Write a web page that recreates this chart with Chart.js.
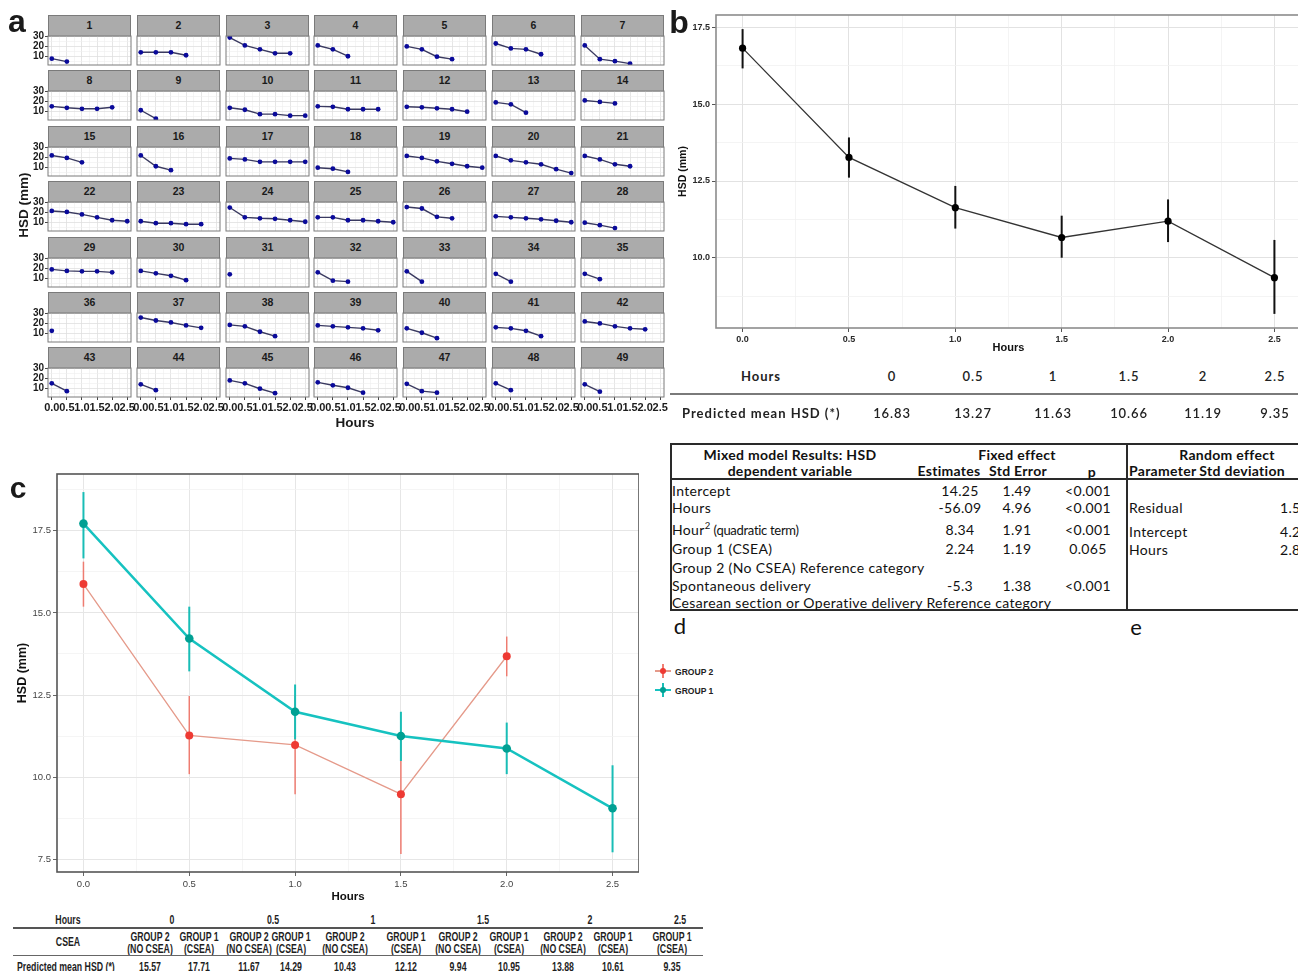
<!DOCTYPE html>
<html><head><meta charset="utf-8"><title>HSD mixed model</title>
<script src="https://cdn.jsdelivr.net/npm/chart.js@4.4.1/dist/chart.umd.min.js"></script>
<style>
html,body{margin:0;padding:0;background:#fff;}
body{width:1298px;height:971px;overflow:hidden;position:relative;font-family:"Liberation Sans",Arial,sans-serif;color:#1a1a1a;}
canvas{position:absolute;}
.t{position:absolute;white-space:nowrap;line-height:1;}
.strip{position:absolute;box-sizing:border-box;border:1px solid #7a7a7a;background:#ababab;font:bold 10.5px "Liberation Sans",Arial,sans-serif;color:#1a1a1a;text-align:center;line-height:19px;}
.r{position:absolute;}
</style></head><body>
<script>
// ---------------- DATA ----------------
const hours = [0, 0.5, 1, 1.5, 2, 2.5];
const hourTickLabels = ['0.0', '0.5', '1.0', '1.5', '2.0', '2.5'];
const hourMinor = [0.25, 0.75, 1.25, 1.75, 2.25];

// Panel a: individual HSD trajectories (mm), one list per subject, starting at hour 0
const subjectIds = ['1','2','3','4','5','6','7','8','9','10','11','12','13','14','15','16','17','18','19','20','21','22','23','24','25','26','27','28','29','30','31','32','33','34','35','36','37','38','39','40','41','42','43','44','45','46','47','48','49'];
const subjectHSD = [
  [7.5, 4.5], [14, 14, 14, 11], [29, 21, 17, 13, 13], [21, 17, 10], [20, 17, 9.5, 7], [23, 18, 17, 12], [21, 7, 5, 2.5],
  [15, 13.5, 12.5, 12.5, 14], [11, 2.5], [13.5, 11.5, 7, 7, 5.5, 5.5], [15, 14.5, 12, 12, 12], [14.5, 14, 13, 12, 9.5], [19, 17, 8.5], [21, 19.5, 18],
  [22, 19.5, 15], [22, 11, 7], [19, 18, 15.5, 15.5, 15.5, 15.5], [9.5, 8.5, 5.2], [21.5, 19.5, 16, 13.5, 11, 9.5], [21.5, 17, 15, 13, 8, 4], [21.5, 18, 13, 11],
  [21.5, 20.5, 18, 15, 12, 11], [11, 9, 9, 8, 8], [25, 15, 14, 13.5, 12, 10.5], [15, 15, 12, 12, 11, 10], [25.5, 24, 15.5, 14], [16, 15, 14, 13, 11.5, 10], [9.5, 7, 4],
  [19, 17.5, 17, 17, 16], [17.5, 15, 12.5, 8], [14], [16, 7.5, 6.5], [17, 6.5], [14.5, 6.5], [14.5, 9],
  [12.5], [26, 23, 21, 18, 15.5], [18.5, 17, 11.5, 7], [18, 17, 16, 15, 13], [15, 10.5, 5], [16, 15, 12.5, 7], [22, 20, 17, 15, 14],
  [15, 7], [14, 8], [18, 15, 9.5, 5], [16, 13, 10.5, 5.5], [14.5, 7, 5.5], [15, 8], [14, 6.5]
];
const smallYMajor = [10, 20, 30];
const smallYTickLabels = ['10', '20', '30'];
const smallYMinor = [5, 15, 25];

// Panel b: predicted mean HSD with CI
const bHours = [0, 0.5, 1, 1.5, 2, 2.5];
const bMean = [16.83, 13.27, 11.63, 10.66, 11.19, 9.35];
const bLow = [16.17, 12.61, 10.95, 10.0, 10.51, 8.17];
const bHigh = [17.45, 13.92, 12.34, 11.37, 11.90, 10.58];
const bYMajor = [10, 12.5, 15, 17.5];
const bYTickLabels = ['10.0', '12.5', '15.0', '17.5'];
const bYMinor = [8.75, 11.25, 13.75, 16.25];
const bTableHourLabels = ['0', '0.5', '1', '1.5', '2', '2.5'];
const bTablePred = ['16.83', '13.27', '11.63', '10.66', '11.19', '9.35'];

// Panel c: by group
const cSeriesNames = ['GROUP 2', 'GROUP 1'];
const cGroup2Hours = [0, 0.5, 1, 1.5, 2];
const cGroup2Mean = [15.88, 11.27, 10.98, 9.48, 13.68];
const cGroup2Low = [15.19, 10.09, 9.48, 7.66, 13.07];
const cGroup2High = [16.56, 12.47, 12.48, 11.30, 14.28];
const cGroup1Hours = [0, 0.5, 1, 1.5, 2, 2.5];
const cGroup1Mean = [17.72, 14.22, 11.99, 11.25, 10.87, 9.05];
const cGroup1Low = [16.66, 13.22, 11.15, 10.49, 10.09, 7.71];
const cGroup1High = [18.68, 15.19, 12.82, 11.99, 11.66, 10.36];
const cYMajor = [7.5, 10, 12.5, 15, 17.5];
const cYTickLabels = ['7.5', '10.0', '12.5', '15.0', '17.5'];
const cYMinor = [8.75, 11.25, 13.75, 16.25, 18.75];
const cTableHourLabels = ['0', '0.5', '1', '1.5', '2', '2.5'];
const cTableGroup = ['GROUP 2', 'GROUP 1', 'GROUP 2', 'GROUP 1', 'GROUP 2', 'GROUP 1', 'GROUP 2', 'GROUP 1', 'GROUP 2', 'GROUP 1', 'GROUP 1'];
const cTableCsea = ['(NO CSEA)', '(CSEA)', '(NO CSEA)', '(CSEA)', '(NO CSEA)', '(CSEA)', '(NO CSEA)', '(CSEA)', '(NO CSEA)', '(CSEA)', '(CSEA)'];
const cTablePred = ['15.57', '17.71', '11.67', '14.29', '10.43', '12.12', '9.94', '10.95', '13.88', '10.61', '9.35'];

// Panels d / e: mixed model table
const dRowLabels = ['Intercept', 'Hours', 'Hour', 'Group 1 (CSEA)', 'Group 2 (No CSEA)  Reference category', 'Spontaneous delivery', 'Cesarean section or Operative delivery Reference category'];
const dEstimates = ['14.25', '-56.09', '8.34', '2.24', '', '-5.3', ''];
const dStdError = ['1.49', '4.96', '1.91', '1.19', '', '1.38', ''];
const dP = ['<0.001', '<0.001', '<0.001', '0.065', '', '<0.001', ''];
const eParams = ['Residual', 'Intercept', 'Hours'];
const eStdDev = ['1.56', '4.26', '2.83'];

// ---------------- HELPERS ----------------
Chart.defaults.font.family = '"Liberation Sans", Arial, sans-serif';
const near = (a, b) => Math.abs(a - b) < 1e-9;
const isIn = (arr, v) => arr.some(a => near(a, v));
function labelFor(major, labels) { return v => { const k = major.findIndex(a => near(a, v)); return k < 0 ? '' : labels[k]; }; }
function fixSize(prop, val) { return s => { s[prop] = val; s.paddingLeft = 0; s.paddingRight = 0; s.paddingTop = 0; s.paddingBottom = 0; }; }
const framePlugin = {
  id: 'frame',
  afterDatasetsDraw(chart, args, o) {
    const a = chart.chartArea, c = chart.ctx;
    c.save(); c.strokeStyle = o.color; c.lineWidth = o.width;
    c.strokeRect(a.left, a.top, a.right - a.left, a.bottom - a.top);
    c.restore();
  }
};
function axis(o) {
  return {
    type: 'linear', min: o.min, max: o.max, offset: false,
    afterBuildTicks: s => { s.ticks = o.major.concat(o.minor).sort((p, q) => p - q).map(v => ({ value: v })); },
    afterFit: fixSize(o.prop, o.size),
    ticks: { display: o.showLabels, autoSkip: false, maxRotation: 0, minRotation: 0, padding: o.pad, font: o.font, color: o.color, callback: labelFor(o.major, o.labels) },
    grid: {
      display: true, offset: false,
      color: c => (c.tick && isIn(o.major, c.tick.value)) ? o.gridMajor : o.gridMinor,
      lineWidth: c => (c.tick && isIn(o.major, c.tick.value)) ? o.gridMajorW : o.gridMinorW,
      drawTicks: o.drawTicks, tickLength: o.tickLen,
      tickColor: c => (c.tick && isIn(o.major, c.tick.value)) ? o.tickColor : 'rgba(0,0,0,0)', tickWidth: 1
    },
    border: { display: false },
    title: o.title || { display: false }
  };
}
function baseOptions(pad, frame) {
  return {
    responsive: false, maintainAspectRatio: false, animation: false, events: [], devicePixelRatio: 1,
    layout: { autoPadding: false, padding: pad },
    plugins: { legend: { display: false }, tooltip: { enabled: false }, frame: frame }
  };
}
function makeCanvas(x, y, w, h) {
  const cv = document.createElement('canvas');
  cv.width = w; cv.height = h;
  cv.style.left = x + 'px'; cv.style.top = y + 'px'; cv.style.width = w + 'px'; cv.style.height = h + 'px';
  document.body.appendChild(cv);
  return cv;
}
function txt(str, x, y, css, align, sx) {
  const d = document.createElement('div');
  d.className = 't'; d.textContent = str; d.style.cssText += css;
  d.style.left = x + 'px'; d.style.top = y + 'px';
  const tx = align === 'left' ? '0' : align === 'right' ? '-100%' : '-50%';
  d.style.transformOrigin = align === 'left' ? 'left center' : align === 'right' ? 'right center' : 'center center';
  d.style.transform = 'translate(' + tx + ',-50%)' + (sx ? ' scaleX(' + sx + ')' : '');
  document.body.appendChild(d);
  return d;
}
function rule(x, y, w, h, color) {
  const d = document.createElement('div'); d.className = 'r';
  d.style.left = x + 'px'; d.style.top = y + 'px'; d.style.width = w + 'px'; d.style.height = h + 'px'; d.style.background = color;
  document.body.appendChild(d);
}

// ---------------- PANEL a ----------------
subjectHSD.forEach((vals, i) => {
  const r = Math.floor(i / 7), c = i % 7;
  const px = Math.round(48 + c * 88.8), py = Math.round(36 + r * 55.4);
  const pw = 83, ph = 29;
  const leftAxis = c === 0, bottomAxis = r === 6;
  const yW = leftAxis ? 30 : 0, xH = bottomAxis ? 16 : 0;
  const padL = leftAxis ? 0 : 10, padR = 10, padT = 8, padB = 3;
  const s = document.createElement('div'); s.className = 'strip';
  s.style.left = px + 'px'; s.style.top = (py - 21) + 'px'; s.style.width = pw + 'px'; s.style.height = '22px';
  s.textContent = subjectIds[i];
  document.body.appendChild(s);
  const cv = makeCanvas(px - yW - padL, py - padT, padL + yW + pw + padR, padT + ph + xH + padB);
  new Chart(cv, {
    type: 'line',
    data: { datasets: [{ label: 'Subject ' + subjectIds[i], data: vals.map((v, k) => ({ x: hours[k], y: v })), borderColor: '#3a3a60', borderWidth: 1.4, pointRadius: 2.4, pointBackgroundColor: '#0a0a9a', pointBorderWidth: 0, tension: 0 }] },
    options: Object.assign(baseOptions({ left: padL, right: padR, top: padT, bottom: padB }, { color: '#7a7a7a', width: 1 }), {
      scales: {
        x: axis({ min: -0.125, max: 2.625, major: hours, minor: hourMinor, labels: hourTickLabels, prop: 'height', size: xH, showLabels: bottomAxis, pad: 1, font: { size: 11, weight: 'bold' }, color: '#1a1a1a', gridMajor: '#e0e0e0', gridMinor: '#efefef', gridMajorW: 0.8, gridMinorW: 0.6, drawTicks: bottomAxis, tickLen: 3, tickColor: '#444' }),
        y: axis({ min: 1.05, max: 30.65, major: smallYMajor, minor: smallYMinor, labels: smallYTickLabels, prop: 'width', size: yW, showLabels: leftAxis, pad: 1, font: { size: 10, weight: 'bold', lineHeight: 1 }, color: '#1a1a1a', gridMajor: '#e0e0e0', gridMinor: '#efefef', gridMajorW: 0.8, gridMinorW: 0.6, drawTicks: leftAxis, tickLen: 3, tickColor: '#444' })
      }
    }),
    plugins: [framePlugin]
  });
});
{
  const h = txt('HSD (mm)', 23, 205, 'font:bold 13.5px "Liberation Sans",Arial,sans-serif;');
  h.style.transform = 'translate(-50%,-50%) rotate(-90deg)';
}
txt('Hours', 355, 422, 'font:bold 13.5px "Liberation Sans",Arial,sans-serif;');
txt('a', 17, 21, 'font:bold 32px "Liberation Sans",Arial,sans-serif;');

// ---------------- PANEL b ----------------
const cvB = makeCanvas(670, 10, 631, 345);
new Chart(cvB, {
  type: 'line',
  data: {
    datasets: [
      { type: 'line', label: 'Predicted mean HSD', data: bHours.map((h, k) => ({ x: h, y: bMean[k] })), borderColor: '#333', borderWidth: 1.3, pointRadius: 3.6, pointBackgroundColor: '#000', pointBorderWidth: 0, tension: 0, order: 0 },
      { type: 'bar', label: 'CI', data: bHours.map((h, k) => ({ x: h, y: [bLow[k], bHigh[k]] })), backgroundColor: '#111', borderWidth: 0, maxBarThickness: 2, grouped: false, order: 1 }
    ]
  },
  options: Object.assign(baseOptions({ left: 0, right: 0, top: 5, bottom: 0 }, { color: '#8c8c8c', width: 1.6 }), {
    scales: {
      x: axis({ min: -0.125, max: 2.625, major: hours, minor: hourMinor, labels: hourTickLabels, prop: 'height', size: 27, showLabels: true, pad: 2, font: { size: 9, weight: 'bold' }, color: '#2a2a2a', gridMajor: '#e2e2e2', gridMinor: '#f1f1f1', gridMajorW: 1, gridMinorW: 0.8, drawTicks: true, tickLen: 4, tickColor: '#555',
        title: { display: true, text: 'Hours', font: { size: 11, weight: 'bold' }, color: '#111', padding: { top: 0, bottom: 0 } } }),
      y: axis({ min: 7.71, max: 17.91, major: bYMajor, minor: bYMinor, labels: bYTickLabels, prop: 'width', size: 46, showLabels: true, pad: 2, font: { size: 9, weight: 'bold' }, color: '#2a2a2a', gridMajor: '#e2e2e2', gridMinor: '#f1f1f1', gridMajorW: 1, gridMinorW: 0.8, drawTicks: true, tickLen: 4, tickColor: '#555',
        title: { display: true, text: 'HSD (mm)', font: { size: 10.5, weight: 'bold' }, color: '#111', padding: { top: 6.7, bottom: 0 } } })
    }
  }),
  plugins: [framePlugin]
});
txt('b', 679, 22, 'font:bold 32px "Liberation Sans",Arial,sans-serif;');
const bTableColX = [892, 973, 1053, 1129, 1203, 1275];
const bFontB = 'font:bold 13px Lato,"Open Sans",sans-serif;letter-spacing:1px;color:#222;';
const bFont = 'font:13px Lato,"Open Sans",sans-serif;letter-spacing:0.9px;color:#222;font-weight:600;';
txt('Hours', 761, 376, bFontB);
bTableHourLabels.forEach((s, k) => txt(s, bTableColX[k], 376, bFont));
rule(670, 393, 640, 2, '#7a7a7a');
txt('Predicted mean HSD (*)', 682, 413, bFontB, 'left');
bTablePred.forEach((s, k) => txt(s, bTableColX[k], 413, bFont));

// ---------------- PANELS d / e ----------------
rule(670, 443, 640, 2, '#2a2a2a');
rule(670, 609, 640, 2, '#2a2a2a');
rule(670, 443, 2, 168, '#2a2a2a');
rule(1126, 443, 2, 168, '#2a2a2a');
rule(670, 478, 640, 2, '#2a2a2a');
const dHead = 'font:bold 14px Lato,"Open Sans",sans-serif;color:#111;letter-spacing:0.3px;';
const dBody = 'font:14px Lato,"Open Sans",sans-serif;color:#111;letter-spacing:0.35px;';
txt('Mixed model Results: HSD', 790, 454, dHead);
txt('dependent variable', 790, 470, dHead);
txt('Fixed effect', 1017, 454, dHead);
txt('Estimates', 949, 470, dHead);
txt('Std Error', 1018, 470, dHead);
txt('p', 1092, 471, dHead);
txt('Random effect', 1227, 454, dHead);
txt('Parameter', 1129, 470, dHead, 'left');
txt('Std deviation', 1285, 470, dHead, 'right');
const dRowY = [490, 507, 529, 548, 567, 585, 602];
dRowLabels.forEach((s, k) => {
  const el = txt(s, 672, dRowY[k], dBody, 'left');
  if (k === 2) {
    const sup = document.createElement('sup'); sup.textContent = '2';
    sup.style.cssText = 'font-size:9.5px;vertical-align:6px;';
    el.appendChild(sup);
    const q = document.createElement('span'); q.textContent = ' (quadratic term)';
    q.style.cssText = 'font-size:13px;letter-spacing:-0.3px;';
    el.appendChild(q);
  }
  if (dEstimates[k]) txt(dEstimates[k], 960, dRowY[k], dBody);
  if (dStdError[k]) txt(dStdError[k], 1017, dRowY[k], dBody);
  if (dP[k]) txt(dP[k], 1088, dRowY[k], dBody);
});
const eRowY = [507, 531, 549];
eParams.forEach((s, k) => {
  txt(s, 1129, eRowY[k], dBody, 'left');
  txt(eStdDev[k], 1280, eRowY[k], dBody, 'left');
});
txt('d', 680, 625, 'font:22px Lato,"Open Sans",sans-serif;color:#111;');
txt('e', 1136, 626, 'font:22px Lato,"Open Sans",sans-serif;color:#111;');

// ---------------- PANEL c ----------------
const cvC = makeCanvas(10, 466, 629, 438);
const g2Line = '#e59a8a', g2Point = '#ee3a33', g2Bar = 'rgba(238,112,100,0.9)';
const g1Line = '#16c2c0', g1Point = '#00a093', g1Bar = '#19bdb6';
new Chart(cvC, {
  type: 'line',
  data: {
    datasets: [
      { type: 'line', label: cSeriesNames[1], data: cGroup1Hours.map((h, k) => ({ x: h, y: cGroup1Mean[k] })), borderColor: g1Line, borderWidth: 2.5, pointRadius: 4.3, pointBackgroundColor: g1Point, pointBorderWidth: 0, tension: 0, order: 0 },
      { type: 'bar', label: cSeriesNames[1] + ' CI', data: cGroup1Hours.map((h, k) => ({ x: h, y: [cGroup1Low[k], cGroup1High[k]] })), backgroundColor: g1Bar, borderWidth: 0, maxBarThickness: 2, grouped: false, order: 1 },
      { type: 'line', label: cSeriesNames[0], data: cGroup2Hours.map((h, k) => ({ x: h, y: cGroup2Mean[k] })), borderColor: g2Line, borderWidth: 1.3, pointRadius: 4, pointBackgroundColor: g2Point, pointBorderWidth: 0, tension: 0, order: 2 },
      { type: 'bar', label: cSeriesNames[0] + ' CI', data: cGroup2Hours.map((h, k) => ({ x: h, y: [cGroup2Low[k], cGroup2High[k]] })), backgroundColor: g2Bar, borderWidth: 0, maxBarThickness: 1.5, grouped: false, order: 3 }
    ]
  },
  options: Object.assign(baseOptions({ left: 0, right: 0, top: 8, bottom: 0 }, { color: '#555', width: 1.6 }), {
    scales: {
      x: axis({ min: -0.125, max: 2.625, major: hours, minor: hourMinor, labels: hourTickLabels, prop: 'height', size: 32, showLabels: true, pad: 3, font: { size: 9.5 }, color: '#444', gridMajor: '#e6e6e6', gridMinor: '#f3f3f3', gridMajorW: 1, gridMinorW: 0.8, drawTicks: true, tickLen: 4, tickColor: '#666',
        title: { display: true, text: 'Hours', font: { size: 11.5, weight: 'bold' }, color: '#111', padding: { top: 0, bottom: 0 } } }),
      y: axis({ min: 7.11, max: 19.23, major: cYMajor, minor: cYMinor, labels: cYTickLabels, prop: 'width', size: 47, showLabels: true, pad: 2, font: { size: 9.5 }, color: '#444', gridMajor: '#e6e6e6', gridMinor: '#f3f3f3', gridMajorW: 1, gridMinorW: 0.8, drawTicks: true, tickLen: 4, tickColor: '#666',
        title: { display: true, text: 'HSD (mm)', font: { size: 12.5, weight: 'bold' }, color: '#111', padding: { top: 5, bottom: 0 } } })
    }
  }),
  plugins: [framePlugin]
});
txt('c', 18, 488, 'font:bold 30px "Liberation Sans",Arial,sans-serif;');

// legend for c
[[cSeriesNames[0], g2Line, g2Point, g2Bar, 671], [cSeriesNames[1], g1Line, g1Point, g1Bar, 690]].forEach(([name, lc, pc, bc, y]) => {
  rule(655, y - 1, 16, 2, lc);
  rule(662, y - 7, 2, 14, bc);
  const dot = document.createElement('div'); dot.className = 'r';
  dot.style.cssText += 'left:660px;top:' + (y - 3) + 'px;width:6px;height:6px;border-radius:50%;background:' + pc + ';';
  document.body.appendChild(dot);
  txt(name, 675, y, 'font:bold 9.5px "Liberation Sans",Arial,sans-serif;color:#222;', 'left', 0.9);
});

// table under c
const cColX = [150, 199, 249, 291, 345, 406, 458, 509, 563, 613, 672];
const cHourX = [172, 273, 373, 483, 590, 680];
const cFont = 'font:bold 12.5px "Liberation Sans",Arial,sans-serif;color:#1e1e1e;';
const cSX = 0.7;
txt('Hours', 68, 920, cFont, 'center', cSX);
cTableHourLabels.forEach((s, k) => txt(s, cHourX[k], 920, cFont, 'center', cSX));
rule(13, 927, 690, 2, '#555');
txt('CSEA', 68, 942, cFont, 'center', cSX);
cTableGroup.forEach((s, k) => { txt(s, cColX[k], 937, cFont, 'center', cSX); txt(cTableCsea[k], cColX[k], 949, cFont, 'center', cSX); });
rule(13, 955, 690, 1, '#666');
txt('Predicted mean HSD (*)', 17, 967, cFont, 'left', cSX);
cTablePred.forEach((s, k) => txt(s, cColX[k], 967, cFont, 'center', cSX));
</script>
</body></html>
